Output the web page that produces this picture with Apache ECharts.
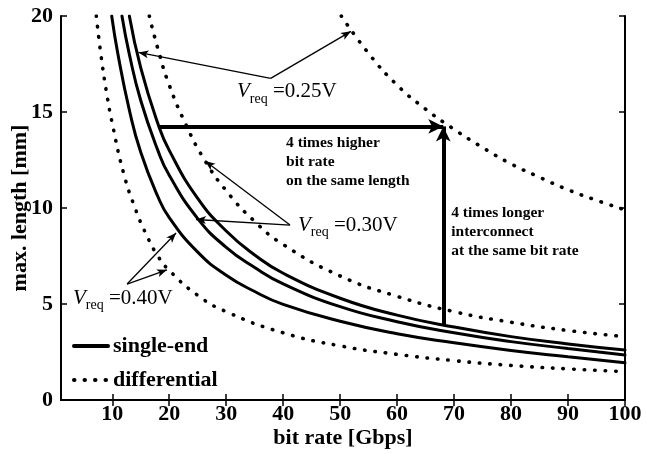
<!DOCTYPE html>
<html>
<head>
<meta charset="utf-8">
<script src="https://cdn.jsdelivr.net/npm/echarts@6/dist/echarts.min.js"></script>
<style>
  html, body { margin: 0; padding: 0; background: #fff; }
  #chart { width: 646px; height: 454px; }
</style>
</head>
<body>
<div id="chart"></div>
<script>
// Axis ticks
const xTicks = [10, 20, 30, 40, 50, 60, 70, 80, 90, 100];
const yTicks = [0, 5, 10, 15, 20];

// Single-ended link: max. length [mm] vs. bit rate [Gbps]
const seX_025 = [13, 15, 18, 20, 25, 30, 35, 40, 50, 60, 70, 80, 90, 100];
const seY_025 = [20, 17.3, 14.4, 13.0, 10.5, 8.8, 7.55, 6.6, 5.3, 4.42, 3.8, 3.3, 2.92, 2.6];

const seX_030 = [11.7, 13, 15, 18, 20, 25, 30, 35, 40, 50, 60, 70, 80, 90, 100];
const seY_030 = [20, 18.0, 15.6, 13.0, 11.7, 9.45, 7.95, 6.9, 6.05, 4.86, 4.08, 3.5, 3.04, 2.68, 2.34];

const seX_040 = [9.9, 11, 13, 15, 18, 20, 25, 30, 35, 40, 50, 60, 70, 80, 90, 100];
const seY_040 = [20, 18.0, 15.1, 12.9, 10.6, 9.5, 7.7, 6.5, 5.65, 4.98, 4.1, 3.45, 2.98, 2.58, 2.25, 1.94];

// Differential link
const dfX_025 = [50.2, 55, 60, 65, 70, 75, 80, 85, 90, 95, 100];
const dfY_025 = [20, 18.05, 16.4, 15.15, 14.1, 13.15, 12.3, 11.6, 10.95, 10.4, 9.9];

const dfX_030 = [16.5, 18, 20, 23, 26, 30, 35, 40, 50, 60, 70, 80, 90, 100];
const dfY_030 = [20, 18.3, 16.4, 14.3, 12.6, 10.9, 9.3, 8.1, 6.46, 5.4, 4.6, 4.05, 3.62, 3.3];

const dfX_040 = [7.2, 8, 9, 10, 12, 14, 16, 18, 20, 25, 30, 40, 50, 60, 70, 80, 90, 100];
const dfY_040 = [20, 18.0, 16.0, 14.4, 11.8, 10.0, 8.6, 7.5, 6.75, 5.45, 4.6, 3.5, 2.82, 2.38, 2.05, 1.8, 1.62, 1.48];

// Comparison at the same length / same bit rate
const sameLength = 14.25;
const rateFrom = 18.3, rateTo = 68.1;
const lengthFrom = 3.95;

const SERIF = '"Liberation Serif", "DejaVu Serif", serif';
const zip = (xs, ys) => xs.map((x, i) => [x, ys[i]]);

const solidStyle = { color: '#000', width: 3, type: 'solid', cap: 'round' };
const dotStyle = { color: '#000', width: 3.6, type: [0.5, 10], cap: 'round' };

function curve(name, xs, ys, style) {
  return {
    name, type: 'line', data: zip(xs, ys), showSymbol: false, symbol: 'none',
    smooth: 0.5, lineStyle: style, itemStyle: { color: '#000' },
    silent: true, animation: false, clip: true, z: 3
  };
}

const axisLineStyle = { show: true, lineStyle: { color: '#000', width: 2 } };
const tickLabel = { color: '#000', fontFamily: SERIF, fontWeight: 'bold', fontSize: 22 };

const chart = echarts.init(document.getElementById('chart'), null, { renderer: 'canvas' });

chart.setOption({
  animation: false,
  backgroundColor: '#fff',
  grid: { left: 61, right: 21, top: 16, bottom: 54, outerBoundsMode: 'none', containLabel: false },
  xAxis: [
    {
      type: 'value', min: 1, max: 100, position: 'bottom',
      name: 'bit rate [Gbps]', nameLocation: 'middle', nameGap: 27, nameMoveOverlap: false,
      nameTextStyle: tickLabel,
      axisLine: axisLineStyle,
      axisTick: { inside: true, length: 6, customValues: xTicks, lineStyle: { color: '#000', width: 1.5 } },
      axisLabel: { customValues: xTicks, margin: 3, ...tickLabel },
      splitLine: { show: false }
    },
    {
      type: 'value', min: 1, max: 100, position: 'top',
      axisLine: axisLineStyle,
      axisTick: { inside: true, length: 6, customValues: xTicks, lineStyle: { color: '#000', width: 1.5 } },
      axisLabel: { show: false },
      splitLine: { show: false }
    }
  ],
  yAxis: [
    {
      type: 'value', min: 0, max: 20, interval: 5, position: 'left',
      name: 'max. length [mm]', nameLocation: 'middle', nameGap: 30, nameMoveOverlap: false,
      nameTextStyle: tickLabel,
      axisLine: axisLineStyle,
      axisTick: { inside: true, length: 6, lineStyle: { color: '#000', width: 1.5 } },
      axisLabel: { margin: 8, formatter: v => (yTicks.includes(v) ? String(v) : ''), ...tickLabel },
      splitLine: { show: false }
    },
    {
      type: 'value', min: 0, max: 20, interval: 5, position: 'right',
      axisLine: axisLineStyle,
      axisTick: { inside: true, length: 6, lineStyle: { color: '#000', width: 1.5 } },
      axisLabel: { show: false },
      splitLine: { show: false }
    }
  ],
  legend: {
    data: ['single-end', 'differential'],
    orient: 'vertical', left: 67, top: 330,
    itemWidth: 34, itemHeight: 14, itemGap: 12,
    selectedMode: false,
    itemStyle: { opacity: 0 },
    lineStyle: { width: 4 },
    textStyle: { color: '#000', fontFamily: SERIF, fontWeight: 'bold', fontSize: 22, lineHeight: 22 }
  },
  series: [
    curve('single-end', seX_025, seY_025, solidStyle),
    curve('single-end', seX_030, seY_030, solidStyle),
    curve('single-end', seX_040, seY_040, solidStyle),
    curve('differential', dfX_025, dfY_025, dotStyle),
    curve('differential', dfX_030, dfY_030, dotStyle),
    curve('differential', dfX_040, dfY_040, dotStyle),
    {
      // bold comparison arrows
      name: 'comparison', type: 'line', data: [], silent: true, z: 4,
      markLine: {
        silent: true, animation: false,
        symbol: ['none', 'arrow'], symbolSize: [11, 15],
        label: { show: false },
        lineStyle: { color: '#000', width: 4, type: 'solid' },
        emphasis: { disabled: true },
        data: [
          [{ coord: [rateFrom, sameLength] }, { coord: [rateTo, sameLength] }],
          [{ coord: [rateTo, lengthFrom] }, { coord: [rateTo, sameLength] }]
        ]
      }
    },
    {
      // thin pointers from the V_req labels to their curves
      name: 'pointers', type: 'line', data: [], silent: true, z: 4,
      markLine: {
        silent: true, animation: false,
        symbol: ['none', 'arrow'], symbolSize: [6, 10],
        label: { show: false },
        lineStyle: { color: '#000', width: 1.3, type: 'solid' },
        emphasis: { disabled: true },
        data: [
          [{ coord: [37.8, 16.75] }, { coord: [14.6, 18.1] }],
          [{ coord: [37.8, 16.75] }, { coord: [51.9, 19.2] }],
          [{ coord: [41.2, 9.11] }, { coord: [26.3, 12.45] }],
          [{ coord: [41.2, 9.11] }, { coord: [24.7, 9.4] }],
          [{ coord: [12.6, 6.04] }, { coord: [21.2, 8.7] }],
          [{ coord: [12.6, 6.04] }, { coord: [19.6, 6.78] }]
        ]
      }
    }
  ]
});

// Text annotations, anchored in data coordinates
const vreqRich = {
  v: { fontFamily: SERIF, fontStyle: 'italic', fontSize: 21, lineHeight: 28, color: '#000' },
  s: { fontFamily: SERIF, fontSize: 14, lineHeight: 16, verticalAlign: 'bottom', color: '#000' },
  n: { fontFamily: SERIF, fontSize: 21, lineHeight: 28, color: '#000' }
};
const vreqLabels = [
  { at: [31.9, 16.05], value: '0.25V' },
  { at: [42.6, 9.11], value: '0.30V' },
  { at: [3.1, 5.31], value: '0.40V' }
];
const notes = [
  { at: [40.5, 13.41], text: '4 times higher\nbit rate\non the same length' },
  { at: [69.5, 9.74], text: '4 times longer\ninterconnect\nat the same bit rate' }
];

const toPx = p => chart.convertToPixel({ gridIndex: 0 }, p);
const graphics = [];
vreqLabels.forEach(l => {
  const [x, y] = toPx(l.at);
  graphics.push({
    type: 'text', x, y, silent: true, z: 10,
    style: {
      text: '{v|V}{s|req}{n| =' + l.value + '}',
      rich: vreqRich, fill: '#000', align: 'left', verticalAlign: 'middle'
    }
  });
});
notes.forEach(n => {
  const [x, y] = toPx(n.at);
  graphics.push({
    type: 'text', x, y: y - 9.5, silent: true, z: 10,
    style: {
      text: n.text, fill: '#000', align: 'left', verticalAlign: 'top',
      fontFamily: SERIF, fontWeight: 'bold', fontSize: 15.5, lineHeight: 19
    }
  });
});
chart.setOption({ graphic: graphics });
</script>
</body>
</html>
